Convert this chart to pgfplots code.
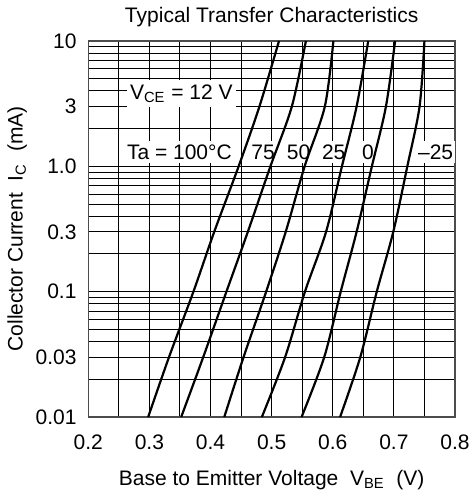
\documentclass[border=0pt]{standalone}
\usepackage{fontspec}
\setmainfont{Liberation Sans}
\usepackage{pgfplots}
\pgfplotsset{compat=1.18}
\begin{document}
\fontsize{10.5}{12.6}\selectfont
\begin{tikzpicture}
\path[use as bounding box] (-44.15pt,-36.5pt) rectangle (191.85pt,208.5pt);
\begin{axis}[
  scale only axis,
  width=183.35pt, height=188pt,
  xmin=0.2, xmax=0.8,
  ymode=log, ymin=0.01, ymax=10,
  xtick={0.2,0.3,0.4,0.5,0.6,0.7,0.8},
  xticklabels={0.2,0.3,0.4,0.5,0.6,0.7,0.8},
  minor xtick={0.25,0.35,0.45,0.55,0.65,0.75},
  ytick={0.01,0.03,0.1,0.3,1,3,10},
  yticklabels={0.01,0.03,0.1,0.3,1.0,3,10},
  minor ytick={0.02,0.04,0.05,0.06,0.07,0.08,0.09,0.2,0.4,0.5,0.6,0.7,0.8,0.9,2,4,5,6,7,8,9},
  grid=both,
  major grid style={black, line width=0.5pt},
  minor grid style={black, line width=0.5pt},
  axis line style={black!70, line width=0.6pt},
  major tick length=0pt, minor tick length=0pt,
  /pgf/number format/assume math mode=true,
  xticklabel style={anchor=base, yshift=-16.2pt},
  yticklabel style={anchor=east, xshift=-2.2pt},
  title={Typical Transfer Characteristics},
  title style={at={(axis description cs:0.5,1)}, anchor=base, yshift=3.2pt, inner sep=0pt},
  xlabel={Base to Emitter Voltage\ \ V\textsubscript{BE}\ \ (V)},
  xlabel style={at={(axis description cs:0.5,0)}, anchor=base, yshift=-34.3pt, inner sep=0pt},
  ylabel={Collector Current\ \ I\textsubscript{C}\ \ (mA)},
  ylabel style={at={(axis description cs:0,0.5)}, anchor=base, inner sep=0pt, yshift=32.8pt},
]
\node[anchor=base west, fill=white, inner xsep=1.5pt, inner ysep=2pt] at (axis cs:0.2628,3.44) {V\textsubscript{CE} = 12 V};
\node[anchor=base west, fill=white, inner xsep=1.5pt, inner ysep=2pt] at (axis cs:0.2578,1.14) {Ta = 100°C};
\node[anchor=base west, fill=white, inner xsep=1pt, inner ysep=2pt] at (axis cs:0.4630,1.14) {75};
\node[anchor=base west, fill=white, inner xsep=1pt, inner ysep=2pt] at (axis cs:0.5210,1.14) {50};
\node[anchor=base west, fill=white, inner xsep=1pt, inner ysep=2pt] at (axis cs:0.5785,1.14) {25};
\node[anchor=base west, fill=white, inner xsep=1pt, inner ysep=2pt] at (axis cs:0.6441,1.14) {0};
\node[anchor=base west, fill=white, inner xsep=1pt, inner ysep=2pt] at (axis cs:0.7357,1.14) {–25};
\addplot[black, line width=1.1pt, smooth, tension=0.5] coordinates {(0.298,0.01) (0.332,0.03) (0.372,0.1) (0.406,0.3) (0.446,1) (0.480,3) (0.512,10)};
\addplot[black, line width=1.1pt, smooth, tension=0.5] coordinates {(0.352,0.01) (0.388,0.03) (0.426,0.1) (0.461,0.3) (0.498,1) (0.533,3) (0.556,10)};
\addplot[black, line width=1.1pt, smooth, tension=0.5] coordinates {(0.4225,0.01) (0.454,0.03) (0.491,0.1) (0.523,0.3) (0.554,1) (0.587,3) (0.601,10)};
\addplot[black, line width=1.1pt, smooth, tension=0.5] coordinates {(0.484,0.01) (0.522,0.03) (0.5545,0.1) (0.589,0.3) (0.615,1) (0.639,3) (0.658,10)};
\addplot[black, line width=1.1pt, smooth, tension=0.5] coordinates {(0.549,0.01) (0.586,0.03) (0.613,0.1) (0.639,0.3) (0.664,1) (0.687,3) (0.702,10)};
\addplot[black, line width=1.1pt, smooth, tension=0.5] coordinates {(0.612,0.01) (0.645,0.03) (0.672,0.1) (0.699,0.3) (0.722,1) (0.742,3) (0.750,10)};
\end{axis}
\end{tikzpicture}
\end{document}
